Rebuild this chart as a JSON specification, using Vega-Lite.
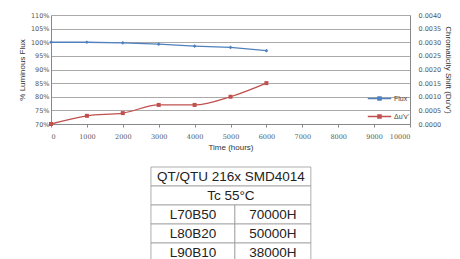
{
  "$schema": "https://vega.github.io/schema/vega-lite/v6.json",
  "background": "white",
  "padding": {"left": 18, "top": 12, "right": 0, "bottom": 0},
  "datasets": {
    "perf": [
      {"t": 0, "series": "Flux", "v": 1.0},
      {"t": 1000, "series": "Flux", "v": 1.0},
      {"t": 2000, "series": "Flux", "v": 0.998},
      {"t": 3000, "series": "Flux", "v": 0.993},
      {"t": 4000, "series": "Flux", "v": 0.986},
      {"t": 5000, "series": "Flux", "v": 0.981},
      {"t": 6000, "series": "Flux", "v": 0.969},
      {"t": 0, "series": "Δu'v'", "v": 0.0},
      {"t": 1000, "series": "Δu'v'", "v": 0.0003},
      {"t": 2000, "series": "Δu'v'", "v": 0.0004},
      {"t": 3000, "series": "Δu'v'", "v": 0.0007},
      {"t": 4000, "series": "Δu'v'", "v": 0.0007},
      {"t": 5000, "series": "Δu'v'", "v": 0.001},
      {"t": 6000, "series": "Δu'v'", "v": 0.0015}
    ],
    "table": [
      {"a": 0, "b": 2, "r": 0, "label": "QT/QTU 216x SMD4014"},
      {"a": 0, "b": 2, "r": 1, "label": "Tc 55°C"},
      {"a": 0, "b": 1.05, "r": 2, "label": "L70B50"},
      {"a": 1.05, "b": 2, "r": 2, "label": "70000H"},
      {"a": 0, "b": 1.05, "r": 3, "label": "L80B20"},
      {"a": 1.05, "b": 2, "r": 3, "label": "50000H"},
      {"a": 0, "b": 1.05, "r": 4, "label": "L90B10"},
      {"a": 1.05, "b": 2, "r": 4, "label": "38000H"}
    ]
  },
  "spacing": 14,
  "vconcat": [
    {
      "width": 359,
      "height": 109,
      "data": {"name": "perf"},
      "encoding": {
        "x": {
          "field": "t", "type": "quantitative",
          "scale": {"domain": [0, 10000], "nice": false},
          "axis": {"title": "Time (hours)", "values": [0,1000,2000,3000,4000,5000,6000,7000,8000,9000,10000], "format": "d", "grid": false, "labelFont": "DejaVu Serif", "labelFontSize": 6.5, "labelColor": "#555", "labelPadding": 6, "titleFontSize": 8, "titleFontWeight": "normal", "titleColor": "#333", "titlePadding": 4, "domainColor": "#888", "tickColor": "#888", "tickSize": 3}
        },
        "color": {
          "field": "series", "type": "nominal",
          "scale": {"domain": ["Flux", "Δu'v'"], "range": ["#4f81bd", "#c0504d"]},
          "legend": {"orient": "none", "legendX": 316, "legendY": 71, "title": null, "symbolType": "M-1,0H1M-0.13,-0.13H0.13V0.13H-0.13Z", "symbolSize": 550, "symbolStrokeWidth": 1.5, "labelFontSize": 7, "labelColor": "#444", "rowPadding": 0, "labelOffset": 2}
        }
      },
      "layer": [
        {
          "transform": [{"filter": "datum.series === 'Flux'"}],
          "encoding": {
            "y": {
              "field": "v", "type": "quantitative",
              "scale": {"domain": [0.7, 1.1], "nice": false, "zero": false},
              "axis": {"title": "% Luminous Flux", "format": ".0%", "values": [0.7,0.75,0.8,0.85,0.9,0.95,1.0,1.05,1.1], "grid": true, "gridColor": "#aaa", "labelFont": "DejaVu Sans", "labelFontSize": 6.5, "labelColor": "#555", "titleFontSize": 8, "titleFontWeight": "normal", "titleColor": "#333", "titlePadding": 4, "domainColor": "#888", "ticks": false}
            }
          },
          "layer": [
            {"mark": {"type": "line", "strokeWidth": 1.3}},
            {"mark": {"type": "point", "shape": "diamond", "filled": true, "size": 14, "opacity": 1}}
          ]
        },
        {
          "transform": [{"filter": "datum.series !== 'Flux'"}],
          "encoding": {
            "y": {
              "field": "v", "type": "quantitative",
              "scale": {"domain": [0, 0.004], "nice": false},
              "axis": {"orient": "right", "title": "Chromaticity Shift (Du'v')", "format": ".4f", "values": [0,0.0005,0.001,0.0015,0.002,0.0025,0.003,0.0035,0.004], "grid": false, "labelFont": "DejaVu Sans", "labelFontSize": 6.5, "labelColor": "#555", "labelPadding": 8, "titleFontSize": 8, "titleFontWeight": "normal", "titleColor": "#333", "titlePadding": 3, "domainColor": "#888", "ticks": false}
            }
          },
          "layer": [
            {"mark": {"type": "line", "strokeWidth": 1.3, "interpolate": "monotone"}},
            {"mark": {"type": "point", "shape": "square", "filled": true, "size": 16, "opacity": 1}}
          ]
        }
      ],
      "resolve": {"scale": {"y": "independent"}}
    },
    {
      "width": 359,
      "height": 95,
      "data": {"name": "table"},
      "transform": [{"calculate": "(datum.a + datum.b) / 2", "as": "c"}],
      "encoding": {
        "y": {"field": "r", "type": "ordinal", "scale": {"domain": [0,1,2,3,4], "paddingInner": 0, "paddingOuter": 0}, "axis": null}
      },
      "layer": [
        {
          "mark": {"type": "rect", "fill": "white", "stroke": "#999", "strokeWidth": 0.8},
          "encoding": {
            "x": {"field": "a", "type": "quantitative", "scale": {"domain": [-1.25, 3.24], "nice": false, "zero": false}, "axis": null},
            "x2": {"field": "b"}
          }
        },
        {
          "mark": {"type": "text", "font": "Liberation Sans", "fontSize": 13.5, "color": "#222", "baseline": "middle"},
          "encoding": {
            "x": {"field": "c", "type": "quantitative"},
            "text": {"field": "label"}
          }
        }
      ]
    }
  ],
  "config": {
    "view": {"stroke": null},
    "font": "Liberation Sans"
  }
}
